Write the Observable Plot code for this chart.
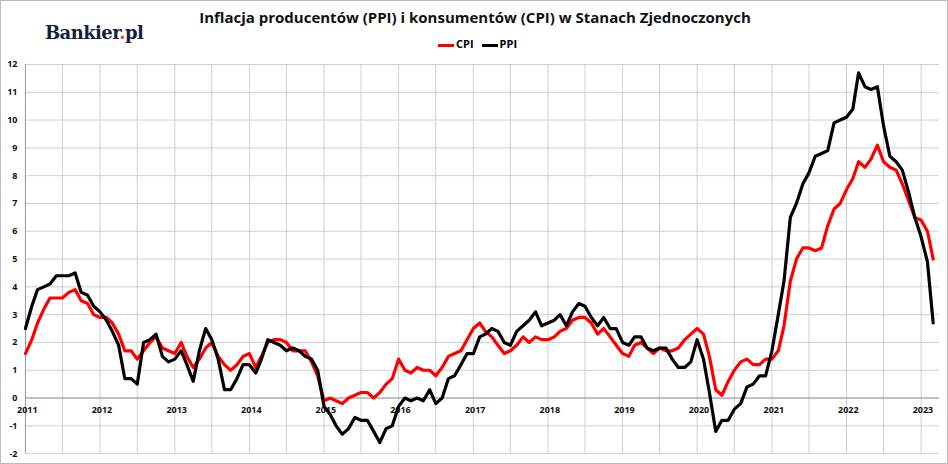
<!DOCTYPE html>
<html><head><meta charset="utf-8">
<script src="https://cdn.jsdelivr.net/npm/d3@7"></script>
<script src="https://cdn.jsdelivr.net/npm/@observablehq/plot@0.6"></script>
<style>
body{margin:0;background:#fff;font-family:"Open Sans",Arial,sans-serif}
#wrap{position:relative;width:946px;height:462px;border:1px solid #bbb;overflow:hidden}
#title{position:absolute;top:6px;left:0;width:948px;text-align:center;font-weight:bold;font-size:15px;color:#111}
#logo{position:absolute;top:21px;left:44px;font-family:"DejaVu Serif",serif;font-weight:bold;font-size:18px;color:#14213d;letter-spacing:-0.6px}
#logo span{color:#e8452c}
#legend{position:absolute;top:35px;left:437px;font-size:11px;font-weight:bold;display:flex;gap:8px}
#legend i{display:inline-block;width:16px;height:3px;vertical-align:middle;margin-right:2px}
#chart{position:absolute;top:50px;left:0}
</style></head><body>
<div id="wrap">
<div id="title">Inflacja producentów (PPI) i konsumentów (CPI) w Stanach Zjednoczonych</div>
<div id="logo">Bankier<span>.</span>pl</div>
<div id="legend"><span><i style="background:#f00"></i>CPI</span><span><i style="background:#000"></i>PPI</span></div>
<div id="chart"></div>
</div>
<script>
const cpi = [
1.6,2.1,2.7,3.2,3.6,3.6,3.6,3.8,3.9,3.5,3.4,3.0,
2.9,2.9,2.7,2.3,1.7,1.7,1.4,1.7,2.0,2.2,1.8,1.7,
1.6,2.0,1.5,1.1,1.4,1.8,2.0,1.5,1.2,1.0,1.2,1.5,
1.6,1.1,1.5,2.0,2.1,2.1,2.0,1.7,1.7,1.7,1.3,0.8,
-0.1,0.0,-0.1,-0.2,0.0,0.1,0.2,0.2,0.0,0.2,0.5,0.7,
1.4,1.0,0.9,1.1,1.0,1.0,0.8,1.1,1.5,1.6,1.7,2.1,
2.5,2.7,2.4,2.2,1.9,1.6,1.7,1.9,2.2,2.0,2.2,2.1,
2.1,2.2,2.4,2.5,2.8,2.9,2.9,2.7,2.3,2.5,2.2,1.9,
1.6,1.5,1.9,2.0,1.8,1.6,1.8,1.7,1.7,1.8,2.1,2.3,
2.5,2.3,1.5,0.3,0.1,0.6,1.0,1.3,1.4,1.2,1.2,1.4,
1.4,1.7,2.6,4.2,5.0,5.4,5.4,5.3,5.4,6.2,6.8,7.0,
7.5,7.9,8.5,8.3,8.6,9.1,8.5,8.3,8.2,7.7,7.1,6.5,
6.4,6.0,5.0];
const ppi = [
2.5,3.3,3.9,4.0,4.1,4.4,4.4,4.4,4.5,3.8,3.7,3.3,
3.1,2.8,2.4,1.9,0.7,0.7,0.5,2.0,2.1,2.3,1.5,1.3,
1.4,1.7,1.2,0.6,1.7,2.5,2.1,1.4,0.3,0.3,0.7,1.2,
1.2,0.9,1.4,2.1,2.0,1.9,1.7,1.8,1.7,1.5,1.4,1.0,
-0.3,-0.6,-1.0,-1.3,-1.1,-0.7,-0.8,-0.8,-1.2,-1.6,-1.1,-1.0,
-0.3,0.0,-0.1,0.0,-0.1,0.3,-0.2,0.0,0.7,0.8,1.2,1.6,
1.6,2.2,2.3,2.5,2.4,2.0,1.9,2.4,2.6,2.8,3.1,2.6,
2.7,2.8,3.0,2.6,3.1,3.4,3.3,2.9,2.6,2.9,2.5,2.5,
2.0,1.9,2.2,2.2,1.8,1.7,1.8,1.8,1.4,1.1,1.1,1.3,
2.1,1.4,0.2,-1.2,-0.8,-0.8,-0.4,-0.2,0.4,0.5,0.8,0.8,
1.7,3.0,4.2,6.5,7.0,7.7,8.1,8.7,8.8,8.9,9.9,10.0,
10.1,10.4,11.7,11.2,11.1,11.2,9.8,8.7,8.5,8.2,7.4,6.5,
5.8,4.9,2.7];
const years = d3.range(2011, 2024);
const yTicks = d3.range(-2, 13);
const months = cpi.map((_, i) => new Date(2011, i, 1));
const rows = months.flatMap((d, i) => [{date: d, v: cpi[i], s: "CPI"}, {date: d, v: ppi[i], s: "PPI"}]);
const halfYears = d3.range(0, 25).map(i => new Date(2011, i * 6, 1));
const plot = Plot.plot({
  width: 948, height: 410,
  marginTop: 13, marginBottom: 7, marginLeft: 24, marginRight: 8,
  x: {type: "time", domain: [new Date(2011, 0, 1), new Date(2023, 3, 1)], axis: null},
  y: {domain: [-2, 12], axis: null},
  style: {fontFamily: "Open Sans, Arial, sans-serif"},
  marks: [
    Plot.ruleY(yTicks, {stroke: "#d0d0d0", strokeWidth: 1}),
    Plot.ruleX(halfYears, {stroke: "#d0d0d0", strokeWidth: 1}),
    Plot.ruleX([new Date(2011, 0, 1)], {stroke: "#999"}),
    Plot.ruleY([0], {stroke: "#999"}),
    Plot.text(yTicks, {x: new Date(2011, 0, 1), y: d => d, text: d => String(d), dx: -8, textAnchor: "end", fontSize: 9, fontWeight: "bold", fill: "#111"}),
    Plot.text(years, {x: d => new Date(d, 0, 10), y: 0, text: d => String(d), dy: 12, fontSize: 9, fontWeight: "bold", fill: "#111"}),
    Plot.line(rows, {x: "date", y: "v", z: "s", stroke: d => d.s === "CPI" ? "#ff0000" : "#000000", strokeWidth: 3.2, strokeLinejoin: "round"})
  ]
});
document.getElementById("chart").append(plot);
</script>
</body></html>
